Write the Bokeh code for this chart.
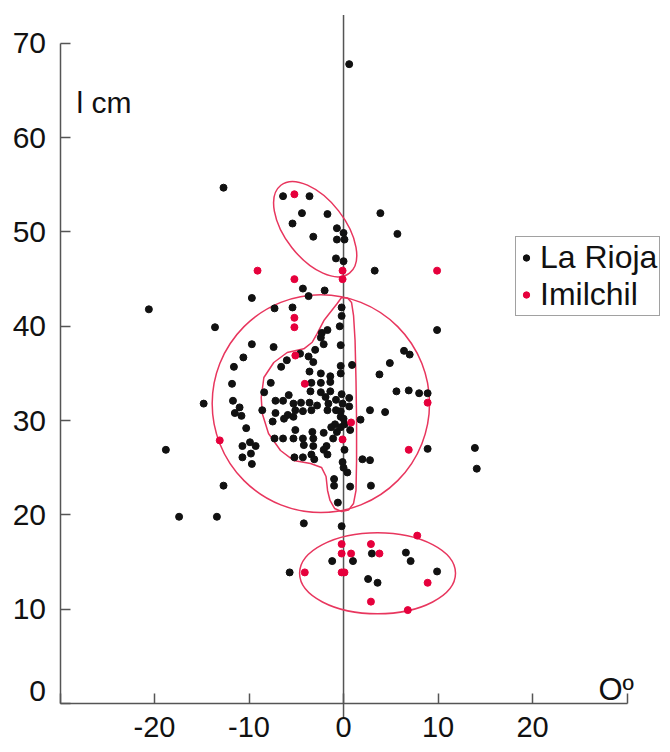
from bokeh.plotting import figure
from bokeh.models import Range1d, FixedTicker, Legend, LegendItem
from bokeh.embed import file_html
from bokeh.resources import INLINE
from bokeh.core.properties import value
import math

# ---- data ----
rioja_x = [0.6, -12.7, -6.4, -3.6, -4.4, -1.7, 3.9, -5.4, -0.7, 0.0, -3.2, -0.7, 0.1, -0.8, 0.0, 3.3,
           -4.3, -2.0, -3.7, -9.7, -7.3, -5.4, -0.2, -0.2, 5.7, 9.9, 6.4, 7.0, 4.9, 3.8, 0.9, -0.4,
           -0.3, -0.3, -0.3, 5.6, 6.9, 8.0, 8.9, 2.8, 4.4, 1.8, 0.7, 0.1, 8.9, 13.9, 14.1, 2.0,
           2.8, -0.1, 0.4, -1.0, 0.7, 2.9, -13.6, -1.7, -2.3, -2.4, -9.7, -7.4, -2.1, -3.0, -4.6, -3.7,
           -10.6, -6.0, -6.6, -3.2, -11.6, -3.6, -2.4, -1.4, -3.4, -2.4, -1.4, -7.7, -11.8, -3.5, -2.4, -1.4,
           -8.4, -5.8, -1.9, -0.2, 0.6, -0.8, -11.7, -7.2, -6.4, -5.3, -4.5, -3.6, -2.8, -1.6, -0.1, 0.6,
           -14.8, -11.0, -8.6, -5.1, -4.3, -3.4, -1.7, -0.8, -0.3, -11.5, -10.8, -7.2, -5.9, -5.3, -6.3, -0.3,
           0.0, -7.5, -0.9, 0.1, -1.3, -0.3, -10.3, -5.1, -3.3, -2.1, -0.7, -7.3, -6.4, -5.3, -4.3, -3.2,
           -1.1, -9.9, -10.7, -9.3, -4.2, -3.2, -1.8, -9.8, -2.1, -1.7, -10.7, -5.2, -4.3, -3.4, -3.1, -9.7,
           0.0, -1.0, -12.7, -20.6, -18.8, -17.4, -13.4, -0.6, -4.2, -0.2, 3.0, 6.6, 7.1, -1.2, 1.0, -5.7,
           9.9, 2.6, 3.6]
rioja_y = [67.8, 54.7, 53.8, 53.8, 52.0, 51.9, 52.0, 50.9, 50.4, 49.9, 49.5, 49.2, 49.2, 47.2, 46.9, 45.9,
           44.0, 43.8, 43.2, 43.0, 41.9, 42.0, 42.0, 41.1, 49.8, 39.6, 37.4, 37.0, 36.1, 34.9, 35.9, 40.0,
           38.0, 35.8, 35.0, 33.1, 33.2, 32.9, 32.9, 31.1, 30.9, 30.1, 29.0, 26.9, 27.0, 27.1, 24.9, 25.9,
           25.8, 25.6, 24.5, 23.8, 23.0, 23.1, 39.9, 39.6, 39.3, 38.8, 38.1, 37.8, 38.1, 37.5, 37.1, 36.8,
           36.7, 36.4, 35.7, 36.2, 35.7, 35.2, 35.0, 34.7, 34.0, 34.0, 34.1, 34.0, 33.9, 33.1, 33.0, 33.1,
           33.0, 32.7, 32.5, 32.8, 32.4, 32.2, 32.1, 32.1, 32.1, 31.8, 31.9, 31.9, 31.6, 31.8, 31.8, 31.5,
           31.8, 31.4, 31.1, 31.1, 31.0, 31.1, 31.1, 31.1, 31.0, 30.8, 30.5, 30.8, 30.6, 30.4, 30.2, 30.4,
           30.2, 29.9, 29.6, 29.6, 29.3, 29.3, 29.2, 29.0, 28.8, 28.7, 28.8, 28.1, 28.1, 28.1, 28.1, 28.1,
           28.1, 27.7, 27.3, 27.3, 27.4, 27.3, 27.3, 26.5, 26.9, 26.4, 26.1, 26.1, 26.1, 26.4, 25.9, 25.4,
           25.0, 23.1, 23.1, 41.8, 26.9, 19.8, 19.8, 21.3, 19.1, 18.8, 15.9, 16.0, 15.1, 15.1, 15.1, 13.9,
           14.0, 13.2, 12.8]

imil_x = [-5.2, -9.1, -0.1, -5.2, -0.1, 9.9, -5.2, -5.2, -5.1, -4.1, 8.9, 0.8, -0.1, 6.9,
          -13.1, 7.8, -0.2, 2.9, -0.2, 0.8, 3.8, -4.1, -0.2, 0.1, 8.9, 2.9, 6.8]
imil_y = [54.0, 45.9, 45.9, 45.0, 45.0, 45.9, 40.9, 39.9, 36.9, 33.9, 31.9, 29.8, 28.0, 26.9,
          27.9, 17.8, 16.9, 16.9, 15.9, 15.9, 15.9, 13.9, 13.9, 13.9, 12.8, 10.8, 9.9]

# group outlines (centre x, centre y, width, height, angle in degrees)
ell_x = [-3.0, -2.4, 3.6]
ell_y = [50.3, 31.8, 13.8]
ell_w = [11.8, 23.0, 16.5]
ell_h = [6.3, 23.1, 8.6]
ell_angle_deg = [-52.0, 0.0, 0.0]

blob_x = [-0.21, 0.42, 0.85, 1.06, 1.22, 1.32, 1.38, 1.38, 1.32, 1.06, 0.53, -0.21, -0.95, -1.43,
          -1.69, -1.85, -2.33, -3.49, -5.29, -6.67, -7.94, -8.60, -8.71, -8.43, -7.38, -5.96, -4.20,
          -3.31, -2.78, -2.08, -0.67]
blob_y = [43.05, 43.0, 42.52, 41.14, 38.49, 34.25, 30.01, 25.77, 22.59, 21.21, 20.52, 20.36, 20.68,
          21.53, 22.59, 24.07, 25.03, 25.45, 25.77, 26.83, 28.63, 30.75, 32.45, 34.57, 36.16, 37.22,
          37.61, 38.31, 39.24, 40.61, 42.42]

x_ticks = [-30, -20, -10, 0, 10, 20, 30]
x_tick_labels = ["", "-20", "-10", "0", "10", "20", ""]
y_ticks = [0, 10, 20, 30, 40, 50, 60, 70]
y_tick_labels = ["", "10", "20", "30", "40", "50", "60", "70"]

FONT = "Liberation Sans"
INK = "#111111"
AXIS = "#555555"
RED = "#e6003c"
PINK = "#e8365e"

p = figure(width=670, height=752, output_backend="svg", toolbar_location=None,
           x_range=Range1d(-36.3, 34.6), y_range=Range1d(-5.2, 74.55),
           min_border=0, background_fill_color="white", border_fill_color="white")
p.outline_line_color = None
p.grid.visible = False

xa = p.xaxis[0]
xa.fixed_location = 0
xa.bounds = (-30, 30)
xa.ticker = FixedTicker(ticks=x_ticks)
xa.major_label_overrides = {t: s for t, s in zip(x_ticks, x_tick_labels)}
ya = p.yaxis[0]
ya.fixed_location = -30
ya.bounds = (0, 70)
ya.ticker = FixedTicker(ticks=y_ticks)
ya.major_label_overrides = {t: s for t, s in zip(y_ticks, y_tick_labels)}
for ax in (xa, ya):
    ax.axis_line_color = AXIS
    ax.axis_line_width = 1.5
    ax.major_tick_line_color = AXIS
    ax.major_tick_line_width = 1.5
    ax.major_tick_in = 10
    ax.major_tick_out = 0
    ax.minor_tick_line_color = None
    ax.major_label_text_font = FONT
    ax.major_label_text_font_size = "30px"
    ax.major_label_text_color = INK
xa.major_label_text_font_size = "29px"
xa.major_label_standoff = 14
ya.major_label_standoff = 14

# vertical reference line at 0
p.segment(x0=[0], y0=[-1.5], x1=[0], y1=[73.0], line_color=AXIS, line_width=1.5)

# group outlines
p.ellipse(x=ell_x, y=ell_y, width=ell_w, height=ell_h,
          angle=[math.radians(a) for a in ell_angle_deg],
          fill_color=None, line_color=PINK, line_width=1.5)
p.patch(blob_x, blob_y, fill_color=None, line_color=PINK, line_width=1.5)

r1 = p.scatter(rioja_x, rioja_y, size=7, fill_color=INK, line_color=INK)
r2 = p.scatter(imil_x, imil_y, size=7, fill_color=RED, line_color=RED)

p.text(x=[-30], y=[0], text=["0"], x_offset=-14, y_offset=-12,
       text_align="right", text_baseline="middle",
       text_font=value(FONT), text_font_size="30px", text_color=INK)
p.text(x=[-28.25], y=[63.76], text=["l cm"], text_align="left", text_baseline="alphabetic",
       text_font=value(FONT), text_font_size="30px", text_color=INK)
p.text(x=[26.98], y=[1.48], text=["Oº"], text_align="left", text_baseline="alphabetic",
       text_font=value(FONT), text_font_size="31px", text_color=INK)

legend = Legend(items=[LegendItem(label="La Rioja", renderers=[r1]),
                       LegendItem(label="Imilchil", renderers=[r2])],
                location=(515, 436), padding=2, spacing=0, margin=0,
                glyph_width=16, glyph_height=31, label_height=31, label_standoff=6,
                label_text_font=FONT, label_text_font_size="32px", label_text_color=INK,
                label_text_line_height=1.0,
                border_line_color="#444444", border_line_width=1.2,
                background_fill_color="white", background_fill_alpha=1.0)
p.add_layout(legend)

open("out.html", "w").write(file_html(p, INLINE))
